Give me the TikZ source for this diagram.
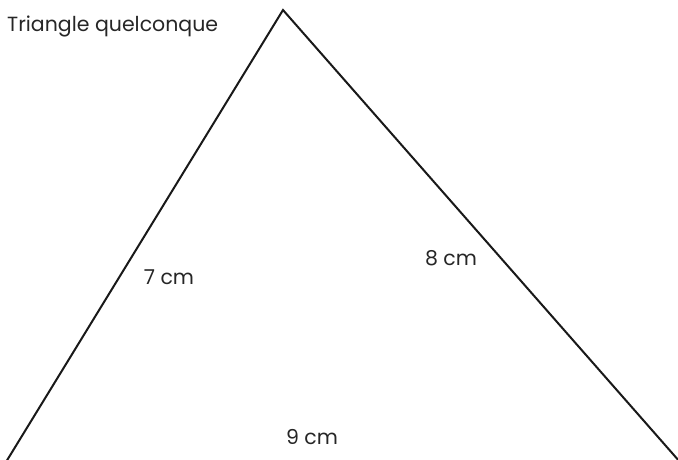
\documentclass[tikz,border=0pt]{standalone}
\usepackage{fontspec}
\setmainfont{Poppins}
\begin{document}
\begin{tikzpicture}[x=1pt,y=-1pt,
  edge/.style={line width=2pt,color=black!90,line join=miter},
  lbl/.style={font=\fontsize{20.5}{24}\selectfont,text=black!85,inner sep=0pt}]
\useasboundingbox (0,0) rectangle (678,459);
\clip (0,0) rectangle (678,459);
\coordinate (A) at (283,10);
\coordinate (B) at (6,462);
\coordinate (C) at (680,462);
\draw[edge] (B) -- (A) -- (C);
\node[lbl,anchor=west] (t) at (7,26) {Triangle quelconque};
\node[lbl] (l7) at (169,277) {7 cm};
\node[lbl] (l8) at (451,258) {8 cm};
\node[lbl] (l9) at (312,437) {9 cm};
\end{tikzpicture}
\end{document}
